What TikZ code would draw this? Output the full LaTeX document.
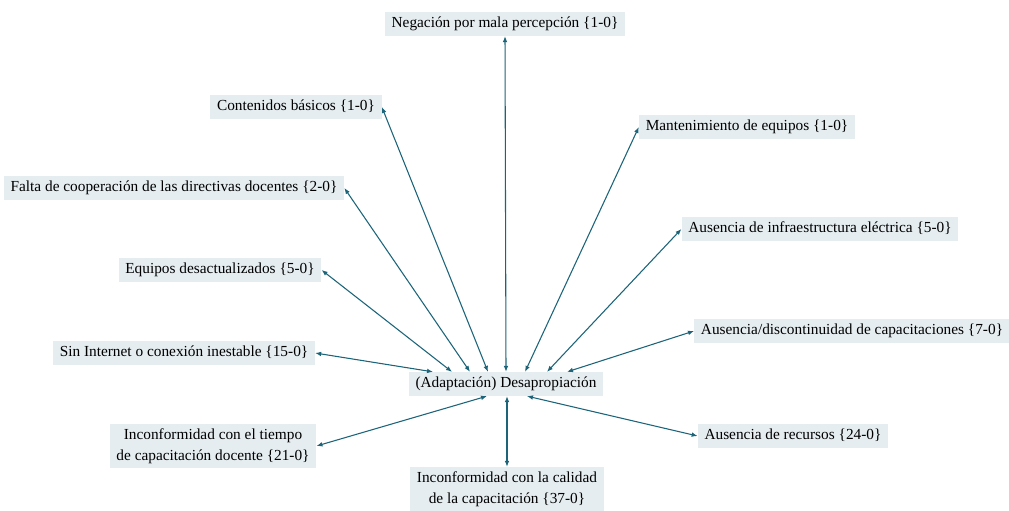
\documentclass[tikz,border=0pt]{standalone}
\usepackage{fontspec}
\setmainfont{Liberation Serif}
\usetikzlibrary{arrows.meta,calc}
\definecolor{linkcol}{HTML}{1B6479}
\definecolor{boxcol}{HTML}{E5EDF0}
\tikzset{
  every picture/.style={x=0.75pt,y=-0.75pt},
  cat/.style={fill=boxcol,inner xsep=5pt,inner ysep=3.6pt,text height=8pt,text depth=2.6pt,
    font=\fontsize{11.5}{15.5}\selectfont},
  cattwo/.style={fill=boxcol,inner xsep=5pt,inner ysep=3.4pt,align=center,
    font=\fontsize{11.5}{15.5}\selectfont},
  link/.style={draw=linkcol,line width=0.8pt,{Latex[length=4.5pt,width=3.5pt]}-{Latex[length=4.5pt,width=3.5pt]}}
}
\begin{document}
\begin{tikzpicture}
  \useasboundingbox (0,0) rectangle (1009,510);
  % centro
  \node[cat] (hub) at (506,384) {(Adaptación) Desapropiación};
  % categorias
  \node[cat] (neg) at (505,24) {Negación por mala percepción \{1-0\}};
  \node[cat] (cont) at (296,107) {Contenidos básicos \{1-0\}};
  \node[cat] (mant) at (747,127) {Mantenimiento de equipos \{1-0\}};
  \node[cat] (falta) at (174,188) {Falta de cooperación de las directivas docentes \{2-0\}};
  \node[cat] (infra) at (820,229) {Ausencia de infraestructura eléctrica \{5-0\}};
  \node[cat] (equip) at (220,270) {Equipos desactualizados \{5-0\}};
  \node[cat] (disc) at (852,331) {Ausencia/discontinuidad de capacitaciones \{7-0\}};
  \node[cat] (sin) at (184,353) {Sin Internet o conexión inestable \{15-0\}};
  \node[cattwo] (tiempo) at (213,446) {Inconformidad con el tiempo\\de capacitación docente \{21-0\}};
  \node[cat] (recur) at (793,436) {Ausencia de recursos \{24-0\}};
  \node[cattwo] (calid) at (507,489) {Inconformidad con la calidad\\de la capacitación \{37-0\}};
  % relaciones
  \draw[link] (neg.south) -- (hub.north);
  \draw[link] (cont.east) -- ($(hub.north)+(-18,0)$);
  \draw[link] (mant.west) -- ($(hub.north)+(19,0)$);
  \draw[link] (falta.east) -- ($(hub.north)+(-36,0)$);
  \draw[link] (infra.west) -- ($(hub.north)+(41,0)$);
  \draw[link] (equip.east) -- ($(hub.north)+(-54,0)$);
  \draw[link] (disc.west) -- ($(hub.north)+(61,0)$);
  \draw[link] (sin.east) -- ($(hub.north)+(-73,0)$);
  \draw[link] (tiempo.east) -- ($(hub.south)+(-19,0)$);
  \draw[link] (recur.west) -- ($(hub.south)+(21,0)$);
  \draw[link] (calid.north) -- ($(hub.south)+(1,0)$);
\end{tikzpicture}
\end{document}
